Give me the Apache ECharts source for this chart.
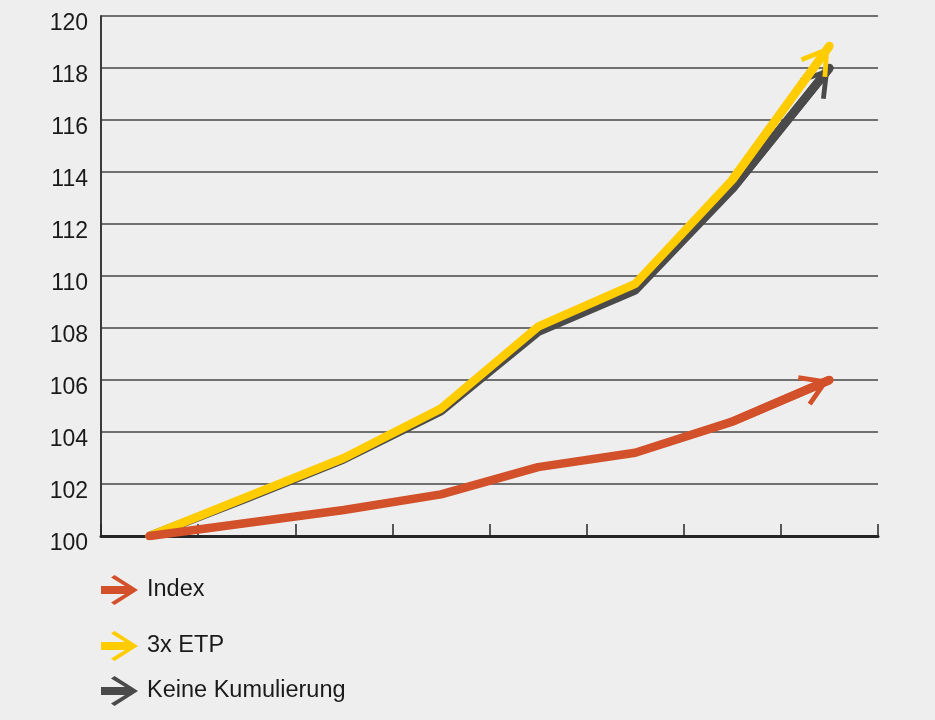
<!DOCTYPE html>
<html>
<head>
<meta charset="utf-8">
<script src="https://cdn.jsdelivr.net/npm/echarts@6/dist/echarts.min.js"></script>
<style>
html,body{margin:0;padding:0;background:#eeeeee;}
#c{width:935px;height:720px;}
</style>
</head>
<body>
<div id="c"></div>
<script>
const categories = ['1', '2', '3', '4', '5', '6', '7', '8'];
const indexValues = [100, 100.5, 101.0, 101.6, 102.65, 103.2, 104.4, 106.0];
const etpValues = [100, 101.5, 103.0, 104.9, 108.05, 109.7, 113.7, 118.85];
const keineValues = [100, 101.45, 102.95, 104.8, 107.85, 109.45, 113.35, 118.0];
const yTicks = {min: 100, max: 120, interval: 2};
const seriesNames = ['Index', '3x ETP', 'Keine Kumulierung'];

const FONT = '"Liberation Sans", Arial, Helvetica, sans-serif';
// chevron head, tip at (15.4,0); extra moveTo makes the box symmetric so the tip sits at the symbol centre
const headPath = 'path://M15.4 0 L30.8 24.6 L27 27 L15.4 8.5 L3.8 27 L0 24.6 Z M15.4 -27';
const legendIcon = 'path://M0 11 L31 11 L31 19 L0 19 Z M10 2.5 L13.5 0 L37 15 L13.5 30 L10 27.5 L30.5 15 Z';

function makeSeries(name, values, color, z) {
  const n = values.length;
  return {
    name: name,
    type: 'line',
    data: values,
    z: z,
    symbol: 'none',
    showSymbol: false,
    silent: true,
    lineStyle: {color: color, width: 8.5, cap: 'round', join: 'round'},
    itemStyle: {color: color},
    markLine: {
      silent: true,
      z: z + 1,
      animation: false,
      symbol: ['none', headPath],
      symbolSize: [33, 58],
      label: {show: false},
      emphasis: {disabled: true},
      lineStyle: {color: color, width: 8.5, type: 'solid', cap: 'butt'},
      data: [[
        {coord: [categories[n - 2], values[n - 2]]},
        {coord: [categories[n - 1], values[n - 1]]}
      ]]
    }
  };
}

function makeLegend(name, top) {
  return {
    data: [{name: name, icon: legendIcon}],
    left: 101,
    top: top,
    padding: 0,
    orient: 'vertical',
    itemWidth: 37,
    itemHeight: 30,
    selectedMode: false,
    textStyle: {fontFamily: FONT, fontSize: 23.5, color: '#1a1a1a', padding: [0, 0, 0, 4]}
  };
}

const chart = echarts.init(document.getElementById('c'), null, {renderer: 'canvas'});
chart.setOption({
  backgroundColor: '#eeeeee',
  animation: false,
  grid: {left: 101, right: 57, top: 16, bottom: 184, containLabel: false},
  legend: [
    makeLegend(seriesNames[0], 575),
    makeLegend(seriesNames[1], 631),
    makeLegend(seriesNames[2], 676)
  ],
  xAxis: {
    type: 'category',
    data: categories,
    boundaryGap: true,
    axisLine: {show: true, lineStyle: {color: '#262626', width: 3}},
    axisTick: {show: true, inside: true, length: 12, lineStyle: {color: '#262626', width: 1.5}},
    axisLabel: {show: false},
    splitLine: {show: false}
  },
  yAxis: {
    type: 'value',
    min: yTicks.min,
    max: yTicks.max,
    interval: yTicks.interval,
    axisLine: {show: true, lineStyle: {color: '#3a3a3a', width: 2}},
    axisTick: {show: false},
    axisLabel: {
      margin: 13,
      fontFamily: FONT,
      fontSize: 23,
      color: '#1a1a1a',
      verticalAlign: 'top',
      lineHeight: 15
    },
    splitLine: {show: true, lineStyle: {color: '#707070', width: 2}}
  },
  series: [
    makeSeries(seriesNames[2], keineValues, '#4a4a4a', 2),
    makeSeries(seriesNames[1], etpValues, '#ffcc00', 4),
    makeSeries(seriesNames[0], indexValues, '#d2502a', 6)
  ]
});
</script>
</body>
</html>
